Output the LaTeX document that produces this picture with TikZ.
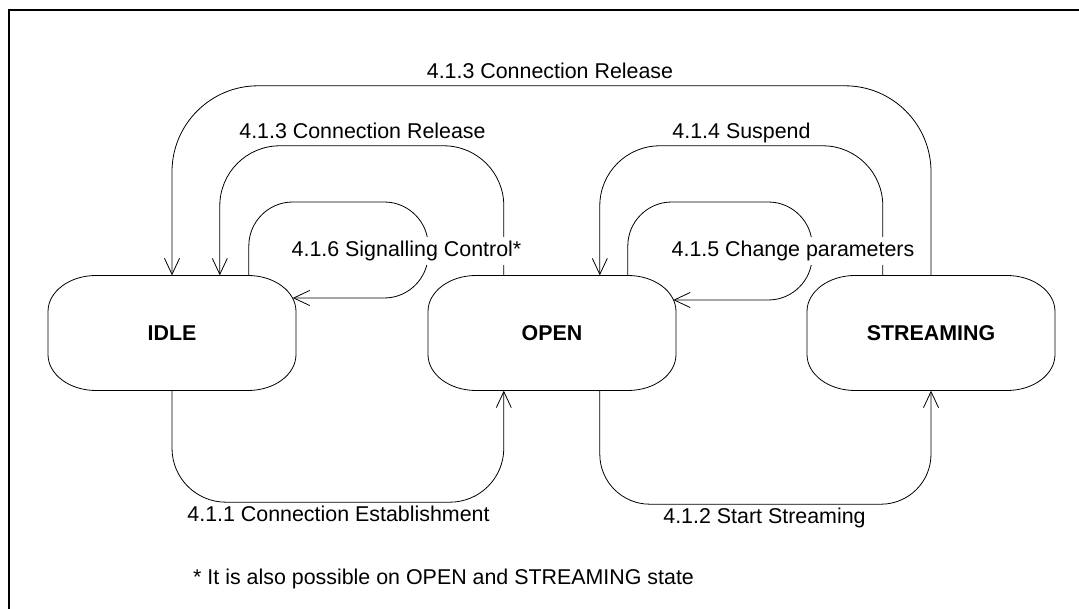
\documentclass[tikz,border=0pt]{standalone}
\usepackage{fontspec}
\setmainfont{Liberation Sans}
\usetikzlibrary{arrows.meta,calc}
\begin{document}
\begin{tikzpicture}[x=1pt,y=-1pt,
  state/.style={minimum width=248pt,minimum height=115pt,inner sep=0pt,
    font=\fontsize{21.4pt}{25pt}\selectfont\bfseries},
  box/.style={line width=0.8pt,draw=black},
  arr/.style={line width=0.8pt,draw=black,-{Straight Barb[length=16pt,width=15pt]}},
  lbl/.style={font=\fontsize{21.4pt}{25pt}\selectfont,inner sep=0pt,anchor=base},
  cover/.style={lbl,fill=white,inner sep=4pt}]
\useasboundingbox (0,0) rectangle (1079,609);
\clip (0,0) rectangle (1079,609);
% frame
\draw[line width=2pt] (8.5,620) -- (8.5,10) -- (1090,10);
% states
\node[state] (idle) at (172,333) {IDLE};
\node[state] (open) at (552,333) {OPEN};
\node[state] (streaming) at (931,333) {STREAMING};
\foreach \n in {idle,open,streaming}{
  \begin{scope}[shift={(\n.center)}]
  \draw[box] (-76,-57.5) -- (76,-57.5)
    .. controls (102.5,-57.5) and (124,-41.4) .. (124,-21.5) -- (124,21.5)
    .. controls (124,41.4) and (102.5,57.5) .. (76,57.5) -- (-76,57.5)
    .. controls (-102.5,57.5) and (-124,41.4) .. (-124,21.5) -- (-124,-21.5)
    .. controls (-124,-41.4) and (-102.5,-57.5) .. (-76,-57.5) -- cycle;
  \end{scope}
}
% connectors
\draw[arr,rounded corners=86pt] (streaming.north) -- ++(0,-189.5) -| (idle.north);
\draw[arr,rounded corners=60pt] ($(open.north west)+(76,0)$) -- ++(0,-129.5) -| ($(idle.north west)+(172,0)$);
\draw[arr,rounded corners=44pt] ($(idle.north west)+(201,0)$) |- ($(idle.east)+(132,-131)$) |- ($(idle.east)+(-3.5,-35)$);
\draw[arr,rounded corners=54pt] (idle.south) -- ++(0,111.5) -| ($(open.south west)+(76,0)$);
\draw[arr,rounded corners=60pt] ($(streaming.north west)+(76,0)$) -- ++(0,-129.5) -| ($(open.north west)+(172,0)$);
\draw[arr,rounded corners=44pt] ($(open.north west)+(200,0)$) |- ($(open.east)+(136,-131)$) |- ($(open.east)+(-3,-33)$);
\draw[arr,rounded corners=50pt] ($(open.south west)+(172,0)$) -- ++(0,113.5) -| (streaming.south);
% labels
\node[lbl] (l1) at (550,79) {4.1.3 Connection Release};
\node[lbl] (l2) at (362.5,139) {4.1.3 Connection Release};
\node[cover] (l3) at (406.5,257) {4.1.6 Signalling Control*};
\node[lbl] (l4) at (741.5,139) {4.1.4 Suspend};
\node[cover] (l5) at (793,257) {4.1.5 Change parameters};
\node[lbl] (l6) at (338.5,521) {4.1.1 Connection Establishment};
\node[lbl] (l7) at (764.5,523) {4.1.2 Start Streaming};
\node[lbl,anchor=base west] (note) at (193,584) {* It is also possible on OPEN and STREAMING state};
\end{tikzpicture}
\end{document}
